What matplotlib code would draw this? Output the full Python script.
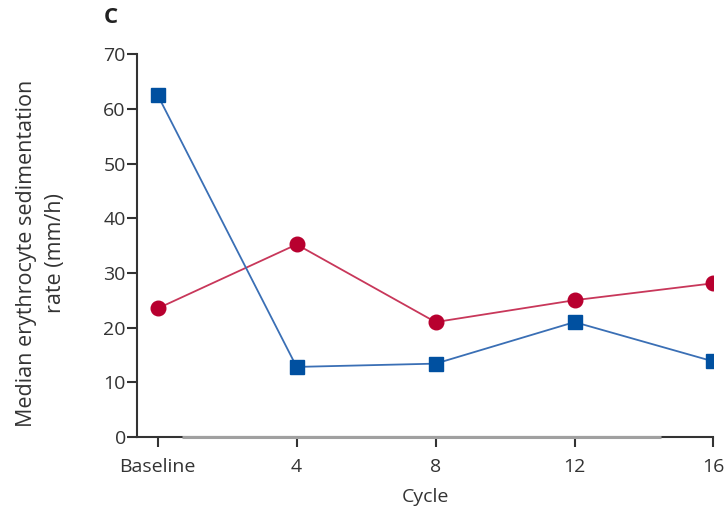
import matplotlib
matplotlib.use("Agg")
import matplotlib.pyplot as plt

plt.rcParams['font.family'] = ['Open Sans', 'DejaVu Sans']

cycles = [0, 4, 8, 12, 16]
tick_labels = ["Baseline", "4", "8", "12", "16"]
blue_values = [62.5, 12.8, 13.4, 21.0, 13.8]
red_values = [23.5, 35.2, 21.0, 25.0, 28.1]

fig = plt.figure(figsize=(7.28, 5.11), dpi=100)
ax = fig.add_axes([0.188, 0.145, 0.792, 0.749])

ax.plot(cycles, red_values, color="#c8375a", lw=1.3, zorder=2)
ax.plot(cycles, red_values, ls="none", marker="o", ms=10.5, color="#b8002f", zorder=3)
ax.plot(cycles, blue_values, color="#3a6fb5", lw=1.3, zorder=2)
ax.plot(cycles, blue_values, ls="none", marker="s", ms=10.5, color="#0050a0", zorder=3)

ax.set_xlim(-0.6, 16)
ax.set_ylim(0, 70)
ax.set_xticks(cycles)
ax.set_xticklabels(tick_labels)
ax.set_yticks(range(0, 71, 10))

for s in ["top", "right"]:
    ax.spines[s].set_visible(False)
for s in ["left", "bottom"]:
    ax.spines[s].set_color("#333333")
    ax.spines[s].set_linewidth(1.5)
ax.spines["bottom"].set_bounds(-0.6, 16)
ax.plot([0.7, 14.5], [0, 0], color="#a0a0a0", lw=2.2, zorder=4, clip_on=False,
        solid_capstyle="butt")

ax.tick_params(axis="both", direction="out", length=7, width=1.5, color="#333333",
               labelsize=14, labelcolor="#333333")
ax.tick_params(axis="x", pad=8)
ax.tick_params(axis="y", pad=1)

ax.set_xlabel("Cycle", fontsize=14, color="#333333", labelpad=9)

fig.text(0.057, 0.504, "Median erythrocyte sedimentation\nrate (mm/h)", fontsize=15.5,
         color="#333333", rotation=90, ha="center", va="center",
         multialignment="center", linespacing=1.5)

fig.text(0.152, 0.965, "C", fontsize=16, fontweight="bold", color="#222222",
         ha="center", va="center")

fig.savefig("out.png", dpi=100)
